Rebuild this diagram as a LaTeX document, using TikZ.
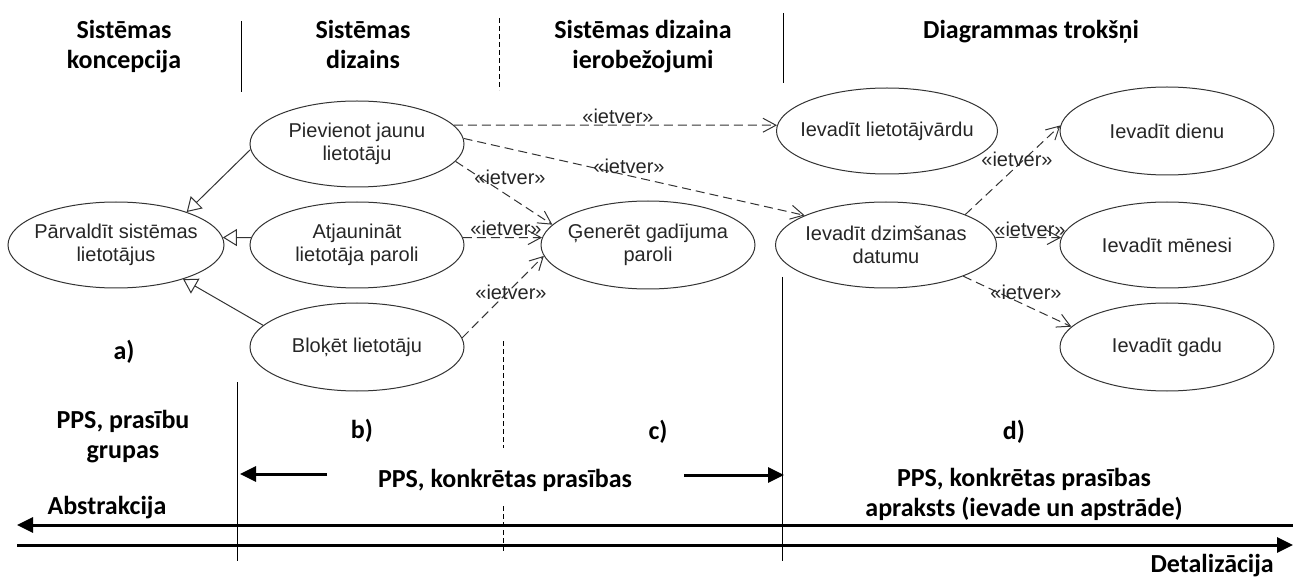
\documentclass[tikz,border=0pt]{standalone}
\usepackage{fontspec}
\setmainfont{Carlito}
\newfontfamily\ucfont{Liberation Sans}
\usetikzlibrary{arrows.meta,shapes.geometric}

\begin{document}
\begin{tikzpicture}[x=1pt,y=-1pt,
  usecase/.style={ellipse, draw=black!80, line width=1pt,
    minimum width=214pt, minimum height=86pt, inner xsep=-14pt, inner ysep=0pt,
    align=center, text=black!85, font=\ucfont\fontsize{20}{23}\selectfont},
  widecase/.style={usecase, minimum width=221pt},
  head/.style={font=\bfseries\fontsize{26}{30}\selectfont, align=center, inner sep=0pt},
  stereo/.style={font=\ucfont\fontsize{20}{20}\selectfont, text=black!85, inner sep=0pt},
  incl/.style={draw=black!80, line width=1pt, dash pattern=on 9pt off 5pt,
    -{Straight Barb[length=13pt,width=14pt]}},
  genarrow/.style={draw=black!80, line width=1pt,
    -{Triangle[length=14pt,width=17pt,fill=white]}},
  divider/.style={line width=1pt},
  dashdiv/.style={line width=1pt, dash pattern=on 5pt off 3pt},
  bigarrow/.style={line width=3pt, -{Triangle[length=16pt,width=15pt]}},
]
\useasboundingbox (0,0) rectangle (1293,577);

% column headings
\node[head] (h1) at (124,46.8) {Sistēmas\\koncepcija};
\node[head] (h2) at (363,44.3) {Sistēmas\\dizains};
\node[head] (h3) at (643,46.8) {Sistēmas dizaina\\ierobežojumi};
\node[head, anchor=base] (h4) at (1031,39) {Diagrammas trokšņi};

% column dividers
\draw[divider] (241,21) -- (241,92);
\draw[dashdiv] (499,18) -- (499,90);
\draw[divider] (783,13) -- (783,83);
\draw[divider] (237,382) -- (237,561);
\draw[dashdiv] (503,341) -- (503,448);
\draw[dashdiv] (503,506) -- (503,551);
\draw[divider] (782,277) -- (782,561);

% use cases
\node[usecase, minimum width=216pt] (parv) at (116,245) {Pārvaldīt sistēmas\\lietotājus};
\node[usecase] (piev) at (357,144) {Pievienot jaunu\\lietotāju};
\node[usecase] (atj) at (357,245) {Atjaunināt\\lietotāja paroli};
\node[usecase, minimum height=88pt] (blok) at (357,347) {Bloķēt lietotāju};
\node[usecase, minimum height=88pt] (gener) at (648,245) {Ģenerēt gadījuma\\paroli};
\node[widecase] (liet) at (887,131) {Ievadīt lietotājvārdu};
\node[widecase] (dzim) at (886,245) {Ievadīt dzimšanas\\datumu};
\node[usecase, minimum height=88pt] (dien) at (1167,131) {Ievadīt dienu};
\node[usecase] (men) at (1167,245) {Ievadīt mēnesi};
\node[usecase, minimum height=88pt] (gadu) at (1167,347) {Ievadīt gadu};

% generalisations
\draw[genarrow] (piev.183) -- (parv.25);
\draw[genarrow] (atj.176) -- (parv.4);
\draw[genarrow] (blok.167) -- (parv.-27);

% include relations
\draw[incl] (piev.11) -- (liet.177);
\draw[incl] (piev.3) -- (dzim.160);
\draw[incl] (piev.-10) -- (gener.168);
\draw[incl] (atj.4) -- (gener.176);
\draw[incl] (blok.5) -- (gener.186);
\draw[incl] (dzim.21) -- (dien.177);
\draw[incl] (dzim.4) -- (men.176);
\draw[incl] (dzim.-22) -- (gadu.168);

\node[stereo] (s1) at (618,116) {«ietver»};
\node[stereo] (s2) at (629,166) {«ietver»};
\node[stereo] (s3) at (510,177) {«ietver»};
\node[stereo] (s4) at (506,228) {«ietver»};
\node[stereo] (s5) at (511,292) {«ietver»};
\node[stereo] (s6) at (1017,159) {«ietver»};
\node[stereo] (s7) at (1030,229) {«ietver»};
\node[stereo] (s8) at (1026,292) {«ietver»};

% part labels
\node[head] (la) at (124,352) {a)};
\node[head] (lb) at (362,431) {b)};
\node[head] (lc) at (658,432) {c)};
\node[head] (ld) at (1014,432) {d)};

% lower captions
\node[head] (cap1) at (123,437) {PPS, prasību\\grupas};
\node[head, anchor=base] (cap2) at (505,487) {PPS, konkrētas prasības};
\node[head] (cap3) at (1024,494) {PPS, konkrētas prasības\\apraksts (ievade un apstrāde)};
\node[head, anchor=base] (abs) at (107,514) {Abstrakcija};
\node[head, anchor=base east] (det) at (1274,572) {Detalizācija};

% span arrows and axes
\coordinate (spanL) at (240,474);
\coordinate (spanLs) at (327,474);
\coordinate (spanRs) at (684,475);
\coordinate (spanR) at (784,475);
\draw[bigarrow] (spanLs) -- (spanL);
\draw[bigarrow] (spanRs) -- (spanR);
\coordinate (axL1) at (17,525);
\coordinate (axR1) at (1293,525);
\coordinate (axL2) at (17,545);
\coordinate (axR2) at (1293,545);
\draw[bigarrow] (axR1) -- (axL1);
\draw[bigarrow] (axL2) -- (axR2);
\end{tikzpicture}
\end{document}
